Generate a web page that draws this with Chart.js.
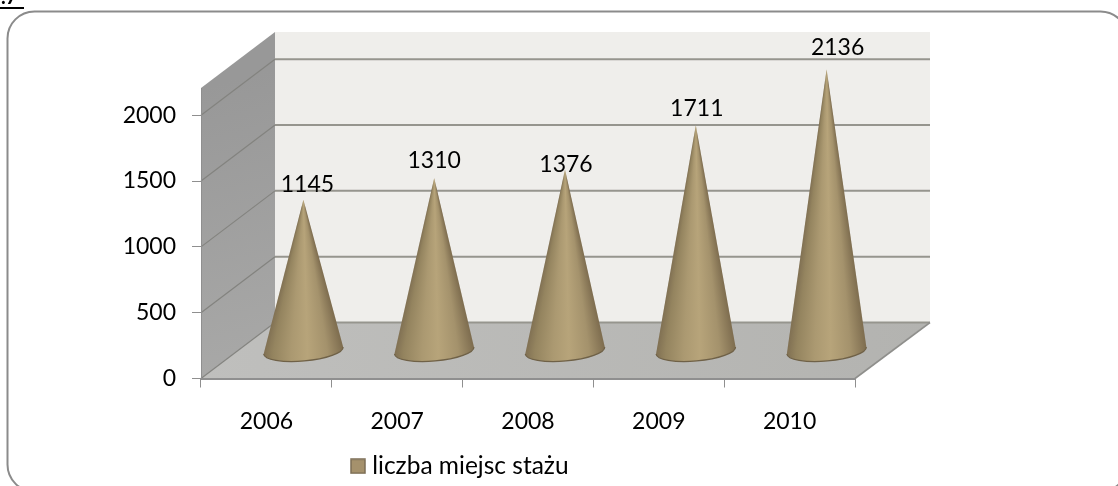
<!DOCTYPE html>
<html><head><meta charset="utf-8">
<style>html,body{margin:0;padding:0;background:#fff;overflow:hidden}canvas{display:block}</style>
<script src="https://cdn.jsdelivr.net/npm/chart.js@4/dist/chart.umd.js"></script>
</head><body><canvas id="c" width="1118" height="486"></canvas>
<script>
const categories = ["2006","2007","2008","2009","2010"];
const seriesName = "liczba miejsc stażu";
const values = [1145,1310,1376,1711,2136];
const yTicks = [0,500,1000,1500,2000];
const labelLift = [15,17,5,17,22];
const labelShift = [4,0,1,1,11];
const DX = 74, DY = -56, FONT = '"Lato"';

const box = document.createElement('canvas');
box.width = 16; box.height = 16;
(function(){const g=box.getContext('2d');g.fillStyle='#a5916c';g.fillRect(1,1,14,14);g.strokeStyle='#7c6e55';g.lineWidth=1.5;g.strokeRect(1,1,14,14);})();

const scene = {
  id:'scene',
  afterLayout(chart){
    chart.legend.left = 346;
    chart.legend.top = 444;
  },
  beforeDraw(chart){
    const c = chart.ctx, a = chart.chartArea, y = chart.scales.y;
    const L=a.left,R=a.right,T=a.top,B=a.bottom;
    c.save();
    c.fillStyle='#fff';c.fillRect(0,0,chart.width,chart.height);
    c.strokeStyle='#8b8b8b';c.lineWidth=2;
    c.beginPath();c.roundRect(7.5,11.5,1120,480,27);c.stroke();
    c.fillStyle='#000';c.fillRect(0,7,24,2);
    c.font='bold 20px '+FONT;c.textBaseline='alphabetic';c.textAlign='left';
    c.fillText('.7',1,4);
    c.fillStyle='#efeeeb';c.fillRect(L+DX,T+DY,R-L+1,B-T);
    let g=c.createLinearGradient(L,T,L+DX,B);
    g.addColorStop(0,'#989898');g.addColorStop(1,'#a9a9a8');
    c.fillStyle=g;c.beginPath();c.moveTo(L,T);c.lineTo(L+DX,T+DY);c.lineTo(L+DX,B+DY);c.lineTo(L,B);c.closePath();c.fill();
    g=c.createLinearGradient(L,B,R+DX,B+DY);
    g.addColorStop(0,'#bfbfbd');g.addColorStop(1,'#b3b3b0');
    c.fillStyle=g;c.beginPath();c.moveTo(L,B);c.lineTo(R,B);c.lineTo(R+DX,B+DY);c.lineTo(L+DX,B+DY);c.closePath();c.fill();
    y.ticks.forEach(t=>{
      const p=y.getPixelForValue(t.value);
      c.strokeStyle='#83837f';c.lineWidth=1.2;
      c.beginPath();c.moveTo(L,p);c.lineTo(L+DX,p+DY);c.stroke();
      c.strokeStyle='#96958e';c.lineWidth=2;
      c.beginPath();c.moveTo(L+DX,p+DY);c.lineTo(R+DX+1,p+DY);c.stroke();
    });
    c.strokeStyle='#8f8f8c';c.lineWidth=1.6;
    c.beginPath();c.moveTo(R,B);c.lineTo(R+DX+1,B+DY);c.stroke();
    c.restore();
  },
  afterDatasetsDraw(chart){
    const c=chart.ctx, bars=chart.getDatasetMeta(0).data;
    const y=chart.scales.y;
    bars.forEach((bar,i)=>{
      const cx=bar.x+DX/2, apex=bar.y+DY/2, base=y.getPixelForValue(0)+DY/2, rx=bar.width/2, ry=10.5, rot=-5*Math.PI/180;
      const lx=cx-rx*Math.cos(rot), ly=base-rx*Math.sin(rot);
      c.save();
      c.beginPath();c.moveTo(cx,apex);c.lineTo(lx,ly);
      c.ellipse(cx,base,rx,ry,rot,Math.PI,0,true);
      c.closePath();
      c.save();c.clip();
      for(let yy=Math.floor(apex);yy<base+14;yy++){
        const w=Math.max(2,Math.min(rx,rx*(yy-apex)/(base-apex)));
        const g=c.createLinearGradient(cx-w,0,cx+w,0);
        g.addColorStop(0,'#7f6f52');g.addColorStop(.12,'#94845f');g.addColorStop(.35,'#ab9971');g.addColorStop(.55,'#b7a47a');g.addColorStop(.8,'#a4926c');g.addColorStop(1,'#7f6e50');
        c.fillStyle=g;c.fillRect(cx-w-3,yy,2*w+6,1.2);
      }
      c.restore();
      c.beginPath();c.ellipse(cx,base,rx,ry,rot,Math.PI,0,true);
      c.strokeStyle='#6f6147';c.lineWidth=1.2;c.stroke();
      c.fillStyle='#000';c.font='23px '+FONT;c.textAlign='center';c.textBaseline='middle';
      c.fillText(String(values[i]),cx+labelShift[i],apex-labelLift[i]);
      c.restore();
    });
  }
};

new Chart(document.getElementById('c'),{
  type:'bar',
  data:{labels:categories,datasets:[{label:seriesName,data:values,backgroundColor:'rgba(0,0,0,0)',borderWidth:0,barPercentage:.61,categoryPercentage:1}]},
  plugins:[scene],
  options:{
    responsive:false,animation:false,
    layout:{padding:{left:0,top:88,right:263,bottom:0}},
    plugins:{
      tooltip:{enabled:false},
      legend:{position:'bottom',align:'start',labels:{
        font:{family:FONT,size:24.5},color:'#000',usePointStyle:true,pointStyleWidth:4,padding:10,
        generateLabels:()=>[{text:seriesName,pointStyle:box,fillStyle:'#a5916c',strokeStyle:'#7c6e55',datasetIndex:0,hidden:false}]
      }}
    },
    scales:{
      x:{afterFit(s){s.height=63;},
        grid:{drawOnChartArea:false,drawTicks:true,tickLength:9,color:'#8f8f8f',offset:true},
        border:{color:'#8f8f8f',width:2},
        ticks:{font:{family:FONT,size:23},color:'#000',padding:20,maxRotation:0}},
      y:{min:0,max:2207,afterFit(s){s.width=201;},
        afterBuildTicks(s){s.ticks=yTicks.map(v=>({value:v}));},
        grid:{drawOnChartArea:false,drawTicks:true,tickLength:9,color:'#8f8f8f'},
        border:{color:'#8f8f8f',width:1},
        ticks:{autoSkip:false,callback:v=>String(v),font:{family:FONT,size:23},color:'#000',padding:16}}
    }
  }
});
</script></body></html>
